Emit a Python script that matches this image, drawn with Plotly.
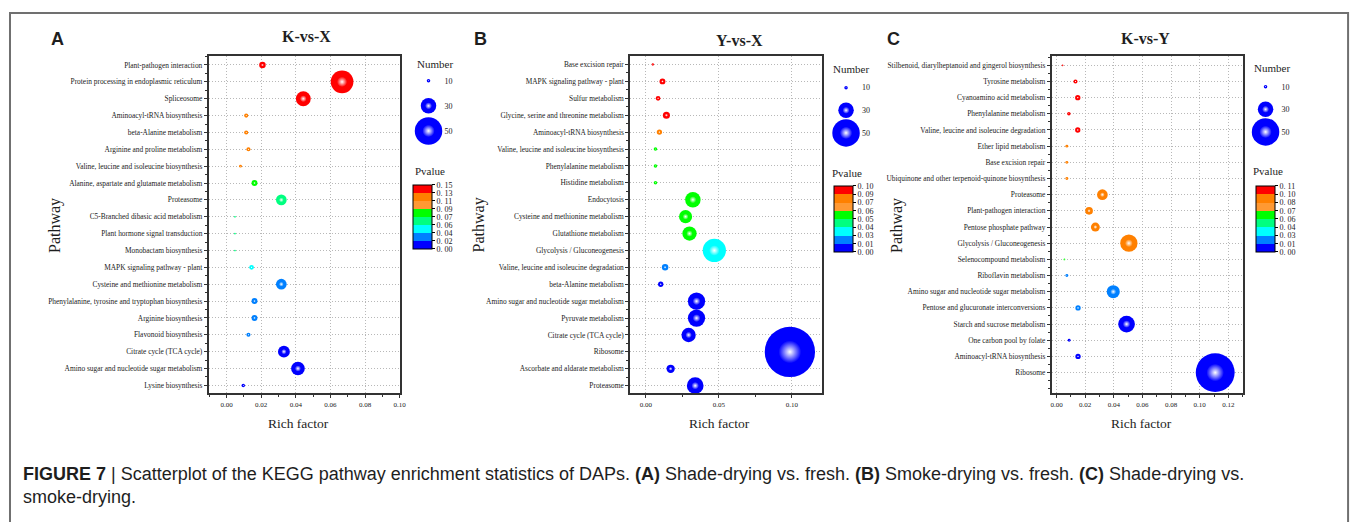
import plotly.graph_objects as go

W, H = 1359, 522
OFF = 8  # page body margin around the plot div
SERIF = "Liberation Serif, Times New Roman, serif"
SANS = "Liberation Sans, Arial, sans-serif"

# ---- Panel A: K-vs-X ----
A_PATHWAYS = [
    "Plant-pathogen interaction", "Protein processing in endoplasmic reticulum", "Spliceosome",
    "Aminoacyl-tRNA biosynthesis", "beta-Alanine metabolism", "Arginine and proline metabolism",
    "Valine, leucine and isoleucine biosynthesis", "Alanine, aspartate and glutamate metabolism",
    "Proteasome", "C5-Branched dibasic acid metabolism", "Plant hormone signal transduction",
    "Monobactam biosynthesis", "MAPK signaling pathway - plant", "Cysteine and methionine metabolism",
    "Phenylalanine, tyrosine and tryptophan biosynthesis", "Arginine biosynthesis",
    "Flavonoid biosynthesis", "Citrate cycle (TCA cycle)", "Amino sugar and nucleotide sugar metabolism",
    "Lysine biosynthesis",
]
A_RICH = [0.0207, 0.0667, 0.0443, 0.0113, 0.0113, 0.0126, 0.0080, 0.0161, 0.0316, 0.0048,
          0.0048, 0.0048, 0.0144, 0.0316, 0.0161, 0.0161, 0.0126, 0.0331, 0.0412, 0.0096]
A_COUNT = [15, 42, 29, 11, 11, 11, 9, 14, 22, 7, 7, 7, 12, 22, 14, 14, 11, 24, 27, 10]
A_PVAL = [0.14, 0.14, 0.14, 0.12, 0.12, 0.12, 0.12, 0.085, 0.065, 0.065,
          0.065, 0.065, 0.045, 0.03, 0.03, 0.03, 0.03, 0.01, 0.005, 0.01]
A_PMAX = 0.15
A_PTICKS = ["0. 00", "0. 02", "0. 04", "0. 06", "0. 07", "0. 09", "0. 11", "0. 13", "0. 15"]

# ---- Panel B: Y-vs-X ----
B_PATHWAYS = [
    "Base excision repair", "MAPK signaling pathway - plant", "Sulfur metabolism",
    "Glycine, serine and threonine metabolism", "Aminoacyl-tRNA biosynthesis",
    "Valine, leucine and isoleucine biosynthesis", "Phenylalanine metabolism", "Histidine metabolism",
    "Endocytosis", "Cysteine and methionine metabolism", "Glutathione metabolism",
    "Glycolysis / Gluconeogenesis", "Valine, leucine and isoleucine degradation",
    "beta-Alanine metabolism", "Amino sugar and nucleotide sugar metabolism", "Pyruvate metabolism",
    "Citrate cycle (TCA cycle)", "Ribosome", "Ascorbate and aldarate metabolism", "Proteasome",
]
B_RICH = [0.0048, 0.0114, 0.0084, 0.0141, 0.0093, 0.0066, 0.0066, 0.0066, 0.0322, 0.0272,
          0.0299, 0.0469, 0.0132, 0.0102, 0.0347, 0.0347, 0.0293, 0.0986, 0.0170, 0.0338]
B_COUNT = [8, 14, 12, 16, 13, 10, 10, 10, 30, 26, 28, 43, 15, 13, 33, 33, 28, 88, 18, 32]
B_PVAL = [0.095, 0.095, 0.095, 0.095, 0.08, 0.055, 0.055, 0.055, 0.055, 0.055,
          0.055, 0.03, 0.02, 0.005, 0.005, 0.005, 0.005, 0.005, 0.005, 0.005]
B_PMAX = 0.10
B_PTICKS = ["0. 00", "0. 01", "0. 03", "0. 04", "0. 05", "0. 06", "0. 07", "0. 09", "0. 10"]

# ---- Panel C: K-vs-Y ----
C_PATHWAYS = [
    "Stilbenoid, diarylheptanoid and gingerol biosynthesis", "Tyrosine metabolism",
    "Cyanoamino acid metabolism", "Phenylalanine metabolism",
    "Valine, leucine and isoleucine degradation", "Ether lipid metabolism", "Base excision repair",
    "Ubiquinone and other terpenoid-quinone biosynthesis", "Proteasome", "Plant-pathogen interaction",
    "Pentose phosphate pathway", "Glycolysis / Gluconeogenesis", "Selenocompound metabolism",
    "Riboflavin metabolism", "Amino sugar and nucleotide sugar metabolism",
    "Pentose and glucuronate interconversions", "Starch and sucrose metabolism",
    "One carbon pool by folate", "Aminoacyl-tRNA biosynthesis", "Ribosome",
]
C_RICH = [0.0042, 0.0132, 0.0148, 0.0086, 0.0148, 0.0072, 0.0072, 0.0072, 0.0320, 0.0227,
          0.0271, 0.0505, 0.0055, 0.0072, 0.0396, 0.0150, 0.0489, 0.0088, 0.0150, 0.1108]
C_COUNT = [7, 11, 13, 10, 13, 9, 9, 9, 22, 17, 19, 33, 7, 9, 26, 13, 32, 9, 13, 69]
C_PVAL = [0.10, 0.10, 0.10, 0.10, 0.10, 0.09, 0.09, 0.09, 0.09, 0.09,
          0.09, 0.09, 0.06, 0.02, 0.02, 0.02, 0.005, 0.005, 0.005, 0.005]
C_PMAX = 0.11
C_PTICKS = ["0. 00", "0. 01", "0. 03", "0. 04", "0. 06", "0. 07", "0. 08", "0. 10", "0. 11"]

LEGEND_COUNTS = [10, 30, 50]
P_COLORS = ["#0000ff", "#0080ff", "#00ffff", "#00ff80", "#00ff00", "#ff9933", "#ff8000", "#ff0000"]

CAPTION_1 = ("<b>FIGURE 7</b> | Scatterplot of the KEGG pathway enrichment statistics of DAPs. "
             "<b>(A)</b> Shade-drying vs. fresh. <b>(B)</b> Smoke-drying vs. fresh. "
             "<b>(C)</b> Shade-drying vs.")
CAPTION_2 = "smoke-drying."

GRID = dict(showgrid=True, gridcolor="#b8b8b8", griddash="1px,2px", gridwidth=1)


def px(x):
    return (x - OFF) / W


def py(y):
    return 1 - (y - OFF) / H


def bubble_size(counts):
    # bubble diameter (px) scale used by the original legend
    return [max(0.6 * c - 2.5, 1.2) for c in counts]


CSCALE = []
for i, c in enumerate(P_COLORS):
    CSCALE += [[i / 8, c], [(i + 1) / 8, c]]

PANELS = [
    dict(letter="A", title="K-vs-X", names=A_PATHWAYS, rich=A_RICH, count=A_COUNT, pval=A_PVAL,
         pmax=A_PMAX, pticks=A_PTICKS, box=(209, 401), xrange=[-0.0103, 0.10], dtick=0.02,
         yrange=[19.47, -0.52], title_xy=(307, 33), letter_xy=(57, 35), ytitle_x=55, xtitle_x=299,
         leg_x=430, leg_y=(78, 129), number_xy=(437, 61), pvalue_xy=(431, 170), cbar=(414, 184, 64)),
    dict(letter="B", title="Y-vs-X", names=B_PATHWAYS, rich=B_RICH, count=B_COUNT, pval=B_PVAL,
         pmax=B_PMAX, pticks=B_PTICKS, box=(633, 826), xrange=[-0.0106, 0.1207], dtick=0.05,
         yrange=[19.45, -0.49], title_xy=(743, 37), letter_xy=(482, 35), ytitle_x=481, xtitle_x=723,
         leg_x=850, leg_y=(85, 131), number_xy=(855, 66), pvalue_xy=(851, 172), cbar=(838, 185, 66)),
    dict(letter="C", title="K-vs-Y", names=C_PATHWAYS, rich=C_RICH, count=C_COUNT, pval=C_PVAL,
         pmax=C_PMAX, pticks=C_PTICKS, box=(1057, 1249), xrange=[-0.0033, 0.13], dtick=0.02,
         yrange=[20.28, -0.56], title_xy=(1151, 35), letter_xy=(898, 35), ytitle_x=902, xtitle_x=1147,
         leg_x=1272, leg_y=(84, 130), number_xy=(1278, 65), pvalue_xy=(1274, 170), cbar=(1262, 185, 66)),
]

fig = go.Figure()
layout = {}
annotations = []


def note(text, x, y, size, family=SERIF, angle=0, xanchor="center"):
    annotations.append(dict(text=text, x=px(x), y=py(y), xref="paper", yref="paper",
                            xanchor=xanchor, yanchor="middle", textangle=angle, showarrow=False,
                            font=dict(family=family, size=size, color="#1e1e1e")))


for i, p in enumerate(PANELS):
    ax = 2 * i + 1
    lx = 2 * i + 2
    n = len(p["names"])
    idx = list(range(n))
    sizes = bubble_size(p["count"])
    cb_x, cb_top, cb_len = p["cbar"]

    fig.add_trace(go.Scatter(
        x=p["rich"], y=idx, mode="markers", xaxis=f"x{ax}", yaxis=f"y{ax}", cliponaxis=False,
        hoverinfo="skip",
        marker=dict(
            size=sizes, color=p["pval"], cmin=0, cmax=p["pmax"], colorscale=CSCALE,
            line_width=0, opacity=1, showscale=True,
            colorbar=dict(
                x=px(cb_x), xanchor="left", y=py(cb_top), yanchor="top",
                thickness=19, thicknessmode="pixels", len=cb_len, lenmode="pixels",
                xpad=0, ypad=0, outlinecolor="black", outlinewidth=1,
                tickmode="array", tickvals=[p["pmax"] * k / 8 for k in range(9)],
                ticktext=p["pticks"], ticks="outside", ticklen=3, tickcolor="black",
                tickfont=dict(family=SERIF, size=8, color="#222"),
            ),
        ),
    ))
    # glossy highlight
    fig.add_trace(go.Scatter(
        x=p["rich"], y=idx, mode="markers", xaxis=f"x{ax}", yaxis=f"y{ax}", cliponaxis=False,
        hoverinfo="skip",
        marker=dict(size=[s * 0.45 for s in sizes], color=p["pval"], cmin=0, cmax=p["pmax"],
                    colorscale=CSCALE, line_width=0, opacity=1, showscale=False,
                    gradient=dict(type="radial", color="white")),
    ))

    # size legend
    lsizes = bubble_size(LEGEND_COUNTS)
    fig.add_trace(go.Scatter(
        x=[0] * len(LEGEND_COUNTS), y=LEGEND_COUNTS, mode="markers", xaxis=f"x{lx}", yaxis=f"y{lx}",
        cliponaxis=False, hoverinfo="skip",
        marker=dict(size=lsizes, color="#0000ff", line_width=0, opacity=1),
    ))
    fig.add_trace(go.Scatter(
        x=[0] * len(LEGEND_COUNTS), y=LEGEND_COUNTS, mode="markers", xaxis=f"x{lx}", yaxis=f"y{lx}",
        cliponaxis=False, hoverinfo="skip",
        marker=dict(size=[s * 0.45 for s in lsizes], color="#0000ff", line_width=0, opacity=1,
                    gradient=dict(type="radial", color="white")),
    ))

    x0, x1 = p["box"]
    layout[f"xaxis{ax}"] = dict(
        domain=[px(x0), px(x1)], anchor=f"y{ax}", range=p["xrange"], dtick=p["dtick"], tick0=0,
        tickformat=".2f", zeroline=False, showline=True, mirror=True, linecolor="#333", linewidth=2,
        ticks="outside", ticklen=3, tickcolor="#333",
        minor=dict(ticks="outside", ticklen=2, tickcolor="#333", dtick=p["dtick"] / 2),
        tickfont=dict(family=SERIF, size=7, color="#222"), **GRID,
    )
    layout[f"yaxis{ax}"] = dict(
        domain=[py(396), py(53)], anchor=f"x{ax}", range=p["yrange"],
        tickmode="array", tickvals=idx, ticktext=p["names"],
        zeroline=False, showline=True, mirror=True, linecolor="#333", linewidth=2,
        ticks="outside", ticklen=3, tickcolor="#333",
        minor=dict(ticks="outside", ticklen=2, tickcolor="#333", dtick=0.5, tick0=0, showgrid=False),
        tickfont=dict(family=SERIF, size=7.4, color="#222"), **GRID,
    )

    bx = p["leg_x"]
    y10, y50 = p["leg_y"]
    layout[f"xaxis{lx}"] = dict(
        domain=[px(bx - 15), px(bx + 15)], anchor=f"y{lx}", range=[-1, 1], visible=False,
    )
    layout[f"yaxis{lx}"] = dict(
        domain=[py(y50), py(y10)], anchor=f"x{lx}", range=[50, 10], side="right",
        tickmode="array", tickvals=LEGEND_COUNTS, ticktext=[str(c) for c in LEGEND_COUNTS],
        showgrid=False, zeroline=False, showline=False, ticks="",
        tickfont=dict(family=SERIF, size=8, color="#222"),
    )

    note(f"<b>{p['title']}</b>", *p["title_xy"], 16)
    note(f"<b>{p['letter']}</b>", *p["letter_xy"], 18, family=SANS)
    note("Pathway", p["ytitle_x"], 225, 16, angle=-90)
    note("Rich factor", p["xtitle_x"], 427, 13.5)
    note("Number", *p["number_xy"], 11)
    note("Pvalue", *p["pvalue_xy"], 11)

note(CAPTION_1, 20, 478, 18, family=SANS, xanchor="left")
note(CAPTION_2, 20, 502, 18, family=SANS, xanchor="left")

fig.update_layout(
    width=W, height=H, margin=dict(l=0, r=0, t=0, b=0),
    paper_bgcolor="white", plot_bgcolor="white", showlegend=False,
    annotations=annotations,
    shapes=[dict(type="rect", xref="paper", yref="paper", x0=px(9), y0=py(9), x1=px(1355), y1=py(540),
                 line=dict(color="#707070", width=2), fillcolor="rgba(0,0,0,0)")],
    **layout,
)

fig.write_html("out.html")
